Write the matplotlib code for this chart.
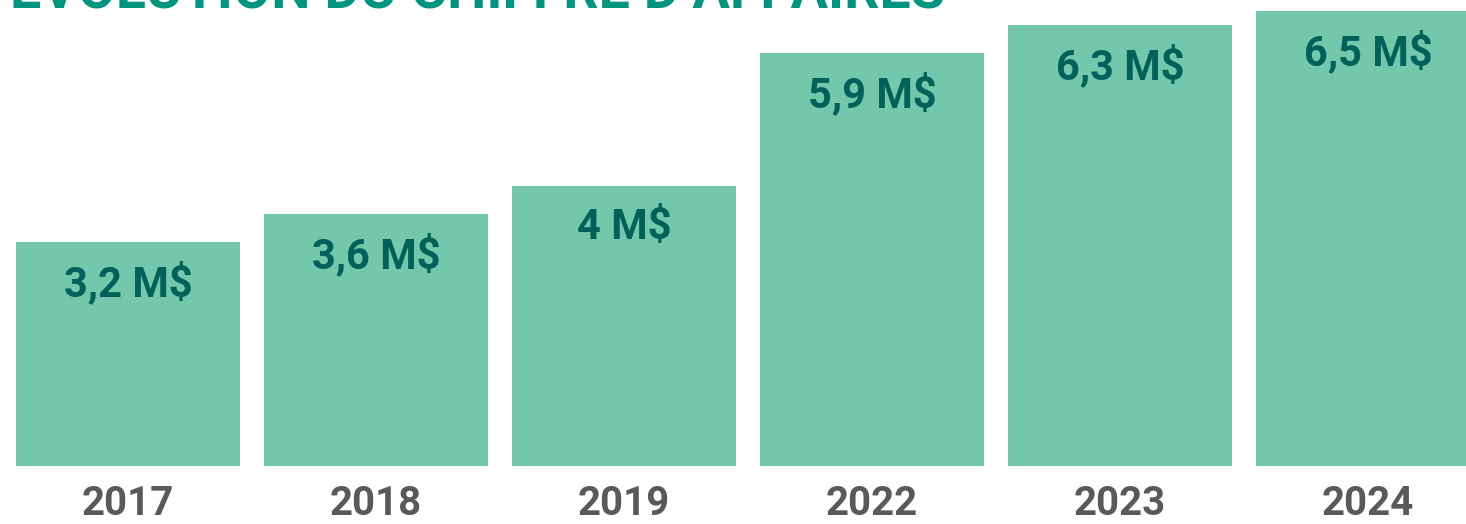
import numpy as np
import matplotlib.pyplot as plt

# données
annees = ["2017", "2018", "2019", "2022", "2023", "2024"]
ca = [3.2, 3.6, 4.0, 5.9, 6.3, 6.5]
etiquettes = ["3,2 M$", "3,6 M$", "4 M$", "5,9 M$", "6,3 M$", "6,5 M$"]

plt.rcParams['font.family'] = ['Roboto', 'DejaVu Sans']

fig = plt.figure(figsize=(14.66, 5.24), dpi=100)
ax = fig.add_axes([0, 58 / 524, 1, 466 / 524])

x = np.arange(len(annees))
ax.bar(x, ca, width=224 / 248, color="#73c7aa")

for i, v in enumerate(ca):
    ax.annotate(etiquettes[i], (x[i], v), xytext=(0, -30), textcoords="offset points",
                ha="center", va="center", fontsize=30, fontweight="bold", color="#00605a")

ax.set_xlim(-128 / 248, (1466 - 128) / 248)
ax.set_ylim(0, 466 / 70)
ax.set_xticks(x, annees)
ax.tick_params(axis="x", length=0, pad=14, labelsize=29, labelcolor="#58595b")
for t in ax.get_xticklabels():
    t.set_fontweight("bold")
ax.set_yticks([])
for s in ax.spines.values():
    s.set_visible(False)

fig.text(10 / 1466, 1 - 7 / 524, "ÉVOLUTION DU CHIFFRE D’AFFAIRES", ha="left", va="baseline",
         fontsize=40, fontweight="bold", color="#00957e")

fig.savefig("out.png", dpi=100)
